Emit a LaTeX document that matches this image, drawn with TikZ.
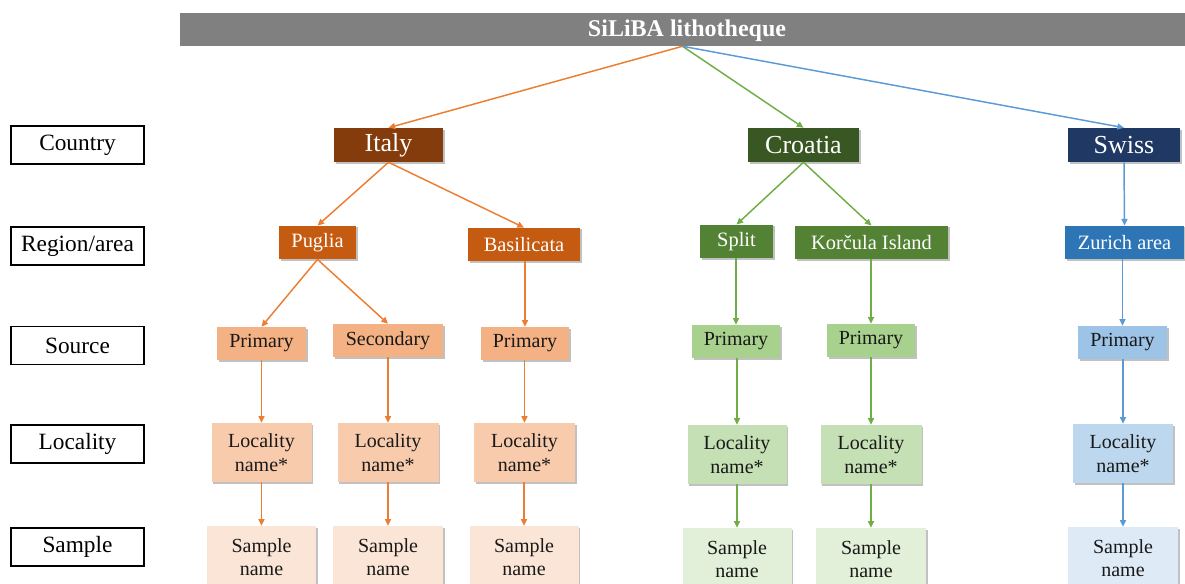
\documentclass[tikz,border=0pt]{standalone}
\usepackage{fontspec}
\setmainfont{Liberation Serif}
\usetikzlibrary{arrows.meta,shadows}
\definecolor{gtitle}{HTML}{808080}
\definecolor{itD}{HTML}{843C0C}
\definecolor{itR}{HTML}{C55A11}
\definecolor{itS}{HTML}{F4B183}
\definecolor{itL}{HTML}{F8CBAD}
\definecolor{itP}{HTML}{FBE5D6}
\definecolor{itA}{HTML}{ED7D31}
\definecolor{crD}{HTML}{385723}
\definecolor{crR}{HTML}{548235}
\definecolor{crS}{HTML}{A9D18E}
\definecolor{crL}{HTML}{C5E0B4}
\definecolor{crP}{HTML}{E2F0D9}
\definecolor{crA}{HTML}{70AD47}
\definecolor{swD}{HTML}{1F3864}
\definecolor{swR}{HTML}{2E75B6}
\definecolor{swS}{HTML}{9DC3E6}
\definecolor{swL}{HTML}{BDD7EE}
\definecolor{swP}{HTML}{DEEBF7}
\definecolor{swA}{HTML}{5B9BD5}
\tikzset{
  bx/.style={rectangle, inner sep=0pt, anchor=center, align=center,
    drop shadow={shadow xshift=1.2pt, shadow yshift=-1.2pt, opacity=0.35, fill=black!70}},
  lab/.style={rectangle, draw=black, line width=0.8pt, inner sep=0pt, fill=white,
    minimum width=99.75pt, minimum height=28.5pt, font=\fontsize{17.5}{20}\selectfont},
  ctry/.style={bx, text=white, minimum height=25.5pt, font=\fontsize{19.5}{22}\selectfont},
  regn/.style={bx, text=white, minimum height=25pt, font=\fontsize{15.3}{18}\selectfont},
  srce/.style={bx, text=black!90, minimum height=24.75pt, font=\fontsize{15}{17.5}\selectfont},
  locl/.style={bx, text=black!90, minimum height=44.25pt, font=\fontsize{15}{17.5}\selectfont},
  smpl/.style={bx, text=black!90, minimum height=46.5pt, font=\fontsize{15}{17.5}\selectfont},
  arr/.style={line width=1.1pt, -{Triangle[length=5pt,width=4.5pt]}},
  ita/.style={arr, draw=itA},
  cro/.style={arr, draw=crA},
  swi/.style={arr, draw=swA}
}
\begin{document}
\begin{tikzpicture}[x=0.75pt,y=-0.75pt]
\useasboundingbox (0,0) rectangle (1185,583);
% title
\node[rectangle, inner sep=0pt, fill=gtitle, minimum width=753.75pt, minimum height=24.75pt] (title) at (682.5,29.5) {};
\node[text=white, font=\bfseries\fontsize{18}{20}\selectfont, inner sep=0pt] (ttl) at (687,30.5) {SiLiBA lithotheque};
% level labels
\node[lab] (lcountry) at (77.5,145) {Country};
\node[lab] (lregion) at (77.5,246) {Region/area};
\node[lab] (lsource) at (77.5,345.5) {Source};
\node[lab] (llocal) at (77.5,444) {Locality};
\node[lab] (lsample) at (77.5,547) {Sample};
% countries
\node[ctry, fill=itD, minimum width=81.75pt] (italy) at (388.5,145) {Italy};
\node[ctry, fill=crD, minimum width=83.25pt] (croatia) at (803.5,145) {Croatia};
\node[ctry, fill=swD, minimum width=84pt] (swiss) at (1124,145) {Swiss};
% regions
\node[regn, fill=itR, minimum width=57.75pt] (puglia) at (317.5,242.5) {Puglia};
\node[regn, fill=itR, minimum width=84pt] (basil) at (524,244.5) {Basilicata};
\node[regn, fill=crR, minimum width=54.75pt] (split) at (736.5,241.5) {Split};
\node[regn, fill=crR, minimum width=114.75pt] (korcula) at (871.5,242.5) {Korčula Island};
\node[regn, fill=swR, minimum width=89.25pt] (zurich) at (1124.5,242.5) {Zurich area};
% sources
\node[srce, fill=itS, minimum width=66.75pt] (s1) at (261.5,343.5) {Primary};
\node[srce, fill=itS, minimum width=82.5pt] (s2) at (388,340.5) {Secondary};
\node[srce, fill=itS, minimum width=66pt] (s3) at (525,343.5) {Primary};
\node[srce, fill=crS, minimum width=66pt] (s4) at (736,341.5) {Primary};
\node[srce, fill=crS, minimum width=66pt] (s5) at (871,340.5) {Primary};
\node[srce, fill=swS, minimum width=66.75pt] (s6) at (1122.5,342.5) {Primary};
% localities
\node[locl, fill=itL, minimum width=75pt] (l1) at (261.5,452.5) {Locality\\name*};
\node[locl, fill=itL, minimum width=75.75pt] (l2) at (388,452.5) {Locality\\name*};
\node[locl, fill=itL, minimum width=75.75pt] (l3) at (524.5,452.5) {Locality\\name*};
\node[locl, fill=crL, minimum width=74.25pt] (l4) at (737,454.5) {Locality\\name*};
\node[locl, fill=crL, minimum width=75.75pt] (l5) at (871,454.5) {Locality\\name*};
\node[locl, fill=swL, minimum width=75pt] (l6) at (1123,453.5) {Locality\\name*};
% samples
\node[smpl, fill=itP, minimum width=81.75pt] (p1) at (261.5,557) {Sample\\name};
\node[smpl, fill=itP, minimum width=82.5pt] (p2) at (388,557) {Sample\\name};
\node[smpl, fill=itP, minimum width=81.75pt] (p3) at (524,557) {Sample\\name};
\node[smpl, fill=crP, minimum width=81.75pt] (p4) at (737,559) {Sample\\name};
\node[smpl, fill=crP, minimum width=82.5pt] (p5) at (871,559) {Sample\\name};
\node[smpl, fill=swP, minimum width=82.5pt] (p6) at (1123,558) {Sample\\name};
% connectors
\draw[ita] (title.south) -- (italy.north);
\draw[cro] (title.south) -- (croatia.north);
\draw[swi] (title.south) -- (swiss.north);
\draw[ita] (italy.south) -- (puglia.north);
\draw[ita] (italy.south) -- (basil.north);
\draw[cro] (croatia.south) -- (split.north);
\draw[cro] (croatia.south) -- (korcula.north);
\draw[swi] (swiss.south) -- (zurich.north);
\draw[ita] (puglia.south) -- (s1.north);
\draw[ita] (puglia.south) -- (s2.north);
\draw[ita] (s3.north |- basil.south) -- (s3.north);
\draw[cro] (s4.north |- split.south) -- (s4.north);
\draw[cro] (s5.north |- korcula.south) -- (s5.north);
\draw[swi] (s6.north |- zurich.south) -- (s6.north);
\draw[ita] (l1.north |- s1.south) -- (l1.north);
\draw[ita] (l2.north |- s2.south) -- (l2.north);
\draw[ita] (l3.north |- s3.south) -- (l3.north);
\draw[cro] (l4.north |- s4.south) -- (l4.north);
\draw[cro] (l5.north |- s5.south) -- (l5.north);
\draw[swi] (l6.north |- s6.south) -- (l6.north);
\draw[ita] (p1.north |- l1.south) -- (p1.north);
\draw[ita] (p2.north |- l2.south) -- (p2.north);
\draw[ita] (p3.north |- l3.south) -- (p3.north);
\draw[cro] (p4.north |- l4.south) -- (p4.north);
\draw[cro] (p5.north |- l5.south) -- (p5.north);
\draw[swi] (p6.north |- l6.south) -- (p6.north);
\end{tikzpicture}
\end{document}
